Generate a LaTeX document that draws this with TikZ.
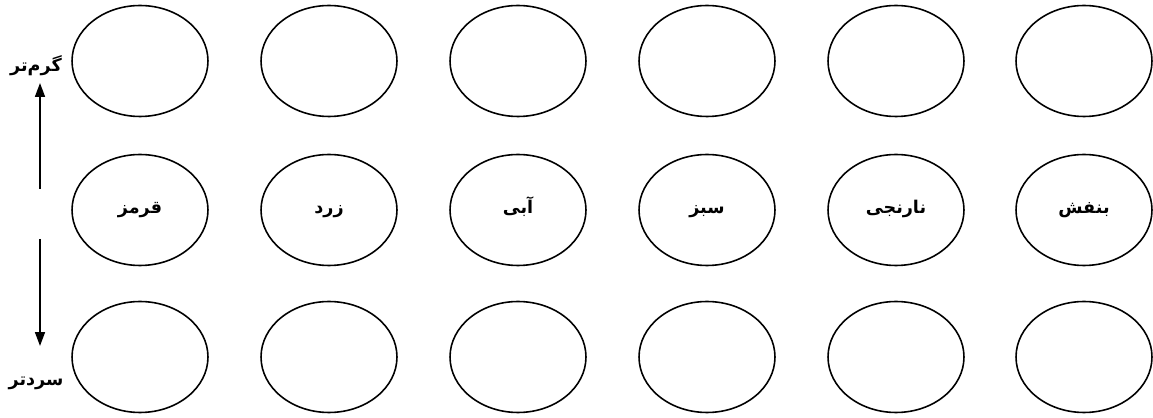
\documentclass[tikz,border=0pt]{standalone}
\usepackage{fontspec}
\newfontfamily\arabicfont[Script=Arabic]{DejaVu Sans}
\TeXXeTstate=1
\usetikzlibrary{arrows.meta,shapes.geometric}
\tikzset{
  cell/.style   ={ellipse, draw=black, line width=0.9pt, minimum width=2.72cm,
                  minimum height=2.22cm, inner sep=0pt},
  colname/.style={font=\arabicfont\bfseries, text height=1.5ex, text depth=0.7ex},
  side/.style   ={font=\arabicfont\bfseries, inner sep=1pt},
  arr/.style    ={-{Triangle[length=2.8mm,width=2mm]}, line width=0.9pt},
}
\newcommand{\fa}[1]{\beginR #1\endR}

\begin{document}
\begin{tikzpicture}[x=0.02cm, y=-0.02cm]
  \useasboundingbox (0,0) rectangle (1153,418);
  % empty rows
  \foreach \i/\x in {1/140,2/329,3/518,4/707,5/896,6/1084} {
    \node[cell] (t\i) at (\x,61) {};
    \node[cell] (b\i) at (\x,357) {};
  }
  % middle row
  \foreach \i/\x/\name in {1/140/قرمز,2/329/زرد,3/518/آبی,4/707/سبز,5/896/نارنجی,6/1084/بنفش}
    \node[cell, colname] (m\i) at (\x,210) {\fa{\name}};
  % side labels
  \node[side] (warm) at (36,66) {\fa{گرم‌تر}};
  \node[side] (cold) at (36,383) {\fa{سردتر}};
  \coordinate (wfrom) at (40,189);
  \coordinate (wto)   at (40,83);
  \coordinate (cfrom) at (40,239);
  \coordinate (cto)   at (40,346);
  \draw[arr] (wfrom) -- (wto);
  \draw[arr] (cfrom) -- (cto);
\end{tikzpicture}
\end{document}
